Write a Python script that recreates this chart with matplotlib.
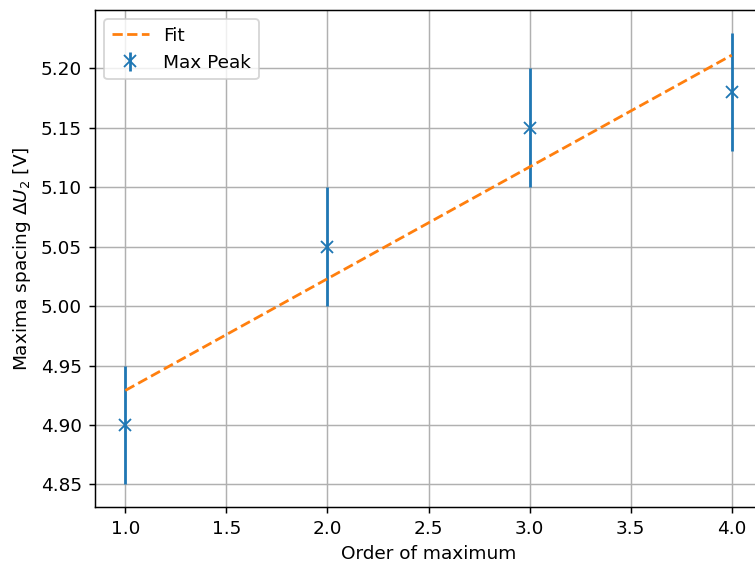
import numpy as np
import matplotlib
matplotlib.use("Agg")
import matplotlib.pyplot as plt

# order of maximum vs. measured spacing between maxima
order = np.array([1, 2, 3, 4])
spacing = np.array([4.90, 5.05, 5.15, 5.18])
spacing_err = np.array([0.05, 0.05, 0.05, 0.05])

# linear fit through the peaks
slope, intercept = np.polyfit(order, spacing, 1)
fit = slope * order + intercept

dpi = 133
fig = plt.figure(figsize=(755 / dpi, 565 / dpi), dpi=dpi)
ax = fig.add_axes([95 / 755, 58 / 565, 667 / 755, 497 / 565])

ax.errorbar(order, spacing, yerr=spacing_err, fmt="x", label="Max Peak")
ax.plot(order, fit, "--", label="Fit")

ax.set_xlabel("Order of maximum")
ax.set_ylabel(r"Maxima spacing $\Delta U_2$ [V]")
ax.grid(True)
ax.legend(loc="upper left")

fig.savefig("out.png", dpi=dpi)
